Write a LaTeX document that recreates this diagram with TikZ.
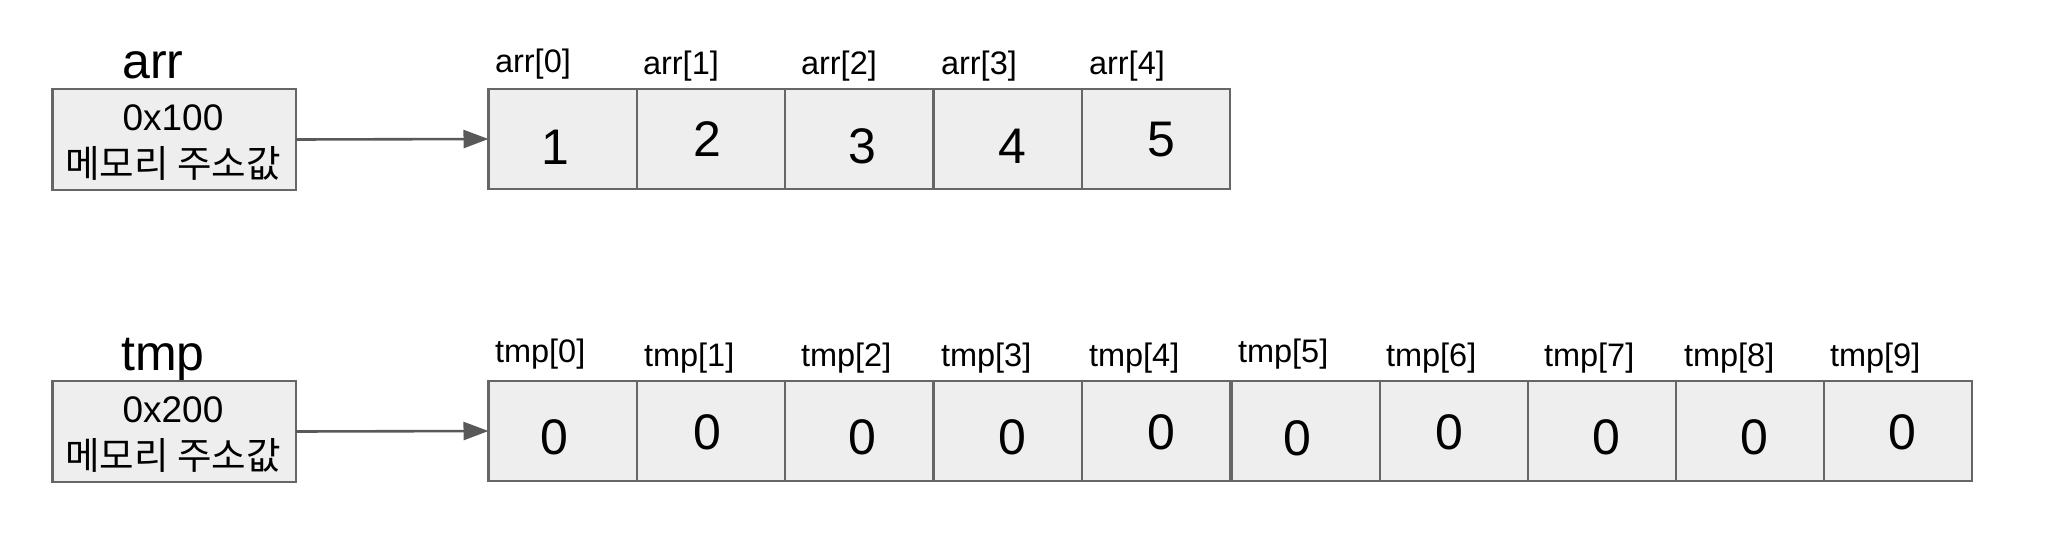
\documentclass[tikz,border=0pt]{standalone}
\usepackage{fontspec}
\setmainfont{Liberation Sans}
\newfontfamily\kr{Noto Sans CJK KR}
\usetikzlibrary{arrows.meta}
\definecolor{bordergray}{HTML}{666666}
\definecolor{cellfill}{HTML}{EEEEEE}
\definecolor{arrowgray}{HTML}{595959}
\begin{document}
\begin{tikzpicture}[x=1pt,y=-1pt,
  cellbox/.style={draw=bordergray, fill=cellfill, line width=2.4pt, minimum width=148.35pt, minimum height=100pt, inner sep=0pt, outer sep=0pt, anchor=north west},
  ptrbox/.style={cellbox, minimum width=243.5pt, minimum height=101pt},
  txt/.style={inner sep=0pt, outer sep=0pt, text=black},
  varname/.style={txt, anchor=base, font=\fontsize{50}{60}\selectfont},
  idx/.style={txt, anchor=base west, font=\fontsize{32.5}{38}\selectfont},
  val/.style={txt, anchor=base, font=\fontsize{50}{60}\selectfont},
  addr/.style={txt, anchor=base, font=\fontsize{37}{44}\selectfont},
  krtxt/.style={txt, anchor=base, font=\kr\fontsize{37.5}{44}\selectfont},
  conn/.style={draw=arrowgray, line width=2.6pt, -{Triangle[length=25pt,width=18pt]}}
]
\useasboundingbox (0,0) rectangle (2060,546);

% ---------- arr ----------
\node[varname] (arrname) at (153,78) {arr};
\node[ptrbox] (arrbox) at (52.5,89) {};
\node[addr] (arraddr) at (173,130) {0x100};
\node[krtxt] (arrkr) at (173,177) {메모리 주소값};

\node[cellbox] (a0) at (488.5,89) {};
\node[cellbox] (a1) at (636.85,89) {};
\node[cellbox] (a2) at (785.2,89) {};
\node[cellbox] (a3) at (933.55,89) {};
\node[cellbox] (a4) at (1081.9,89) {};

\node[idx] (la0) at (495,72) {arr[0]};
\node[idx] (la1) at (643,74) {arr[1]};
\node[idx] (la2) at (801,74) {arr[2]};
\node[idx] (la3) at (941,74) {arr[3]};
\node[idx] (la4) at (1089,74) {arr[4]};

\node[val] (va0) at (555,164) {1};
\node[val] (va1) at (707,156) {2};
\node[val] (va2) at (862,163) {3};
\node[val] (va3) at (1012,163) {4};
\node[val] (va4) at (1161,156) {5};

\draw[conn] (arrbox.east) -- (a0.west);

% ---------- tmp ----------
\node[varname] (tmpname) at (163,370) {tmp};
\node[ptrbox] (tmpbox) at (52.5,381) {};
\node[addr] (tmpaddr) at (173,422) {0x200};
\node[krtxt] (tmpkr) at (173,469) {메모리 주소값};

\node[cellbox] (t0) at (488.5,381) {};
\node[cellbox] (t1) at (636.85,381) {};
\node[cellbox] (t2) at (785.2,381) {};
\node[cellbox] (t3) at (933.55,381) {};
\node[cellbox] (t4) at (1081.9,381) {};
\node[cellbox, minimum width=148pt] (t5) at (1232,381) {};
\node[cellbox, minimum width=148pt] (t6) at (1380,381) {};
\node[cellbox, minimum width=148pt] (t7) at (1528,381) {};
\node[cellbox, minimum width=148pt] (t8) at (1676,381) {};
\node[cellbox, minimum width=148pt] (t9) at (1824,381) {};

\node[idx] (lt0) at (495,362) {tmp[0]};
\node[idx] (lt1) at (644,366) {tmp[1]};
\node[idx] (lt2) at (801,366) {tmp[2]};
\node[idx] (lt3) at (941,366) {tmp[3]};
\node[idx] (lt4) at (1089,366) {tmp[4]};
\node[idx] (lt5) at (1238,362) {tmp[5]};
\node[idx] (lt6) at (1386,366) {tmp[6]};
\node[idx] (lt7) at (1544,366) {tmp[7]};
\node[idx] (lt8) at (1684,366) {tmp[8]};
\node[idx] (lt9) at (1830,366) {tmp[9]};

\node[val] (vt0) at (554,454) {0};
\node[val] (vt1) at (707,449) {0};
\node[val] (vt2) at (862,454) {0};
\node[val] (vt3) at (1012,454) {0};
\node[val] (vt4) at (1161,449) {0};
\node[val] (vt5) at (1297,455) {0};
\node[val] (vt6) at (1449,449) {0};
\node[val] (vt7) at (1606,454) {0};
\node[val] (vt8) at (1754,454) {0};
\node[val] (vt9) at (1902,449) {0};

\draw[conn] (tmpbox.east) -- (t0.west);
\end{tikzpicture}
\end{document}
